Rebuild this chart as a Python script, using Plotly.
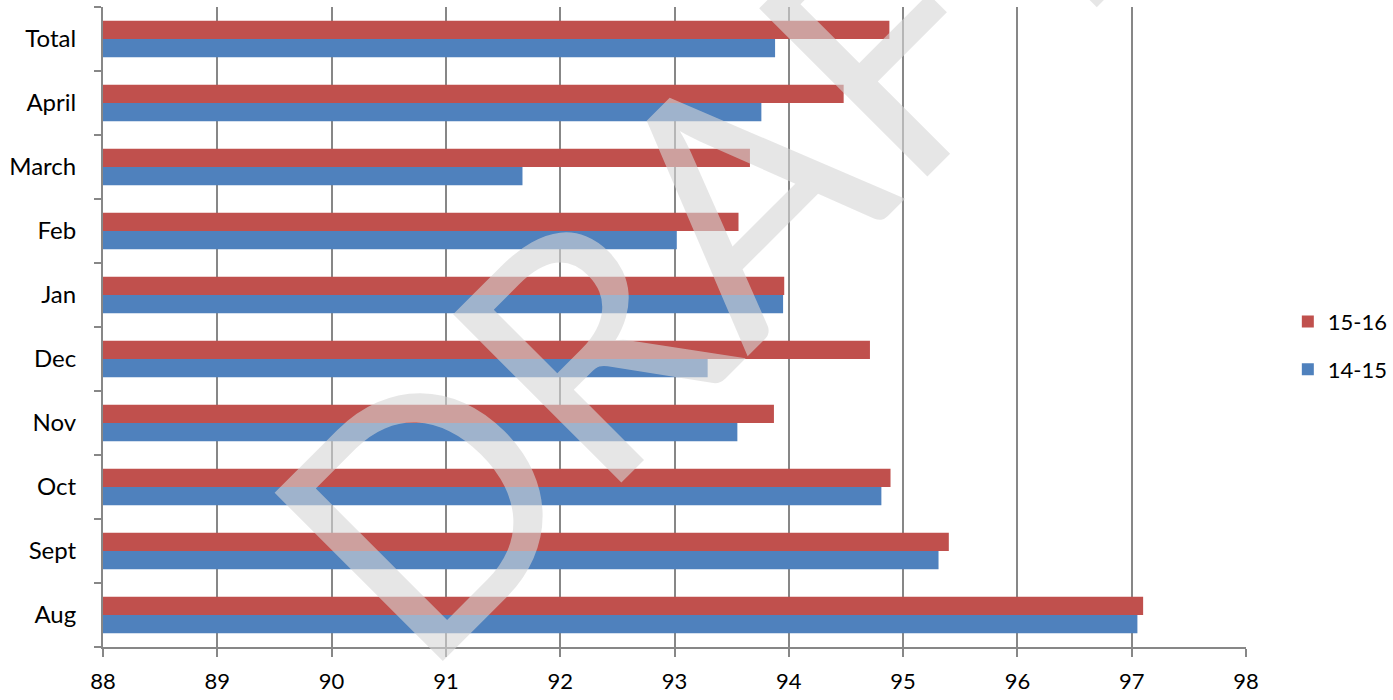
import plotly.graph_objects as go

categories = ["Aug", "Sept", "Oct", "Nov", "Dec", "Jan", "Feb", "March", "April", "Total"]
series_1415 = [97.05, 95.31, 94.81, 93.55, 93.29, 93.95, 93.02, 91.67, 93.76, 93.88]
series_1516 = [97.10, 95.40, 94.89, 93.87, 94.71, 93.96, 93.56, 93.66, 94.48, 94.88]
x_ticks = [88, 89, 90, 91, 92, 93, 94, 95, 96, 97, 98]

FONT = "Lato"
GRID = "#878787"

fig = go.Figure()
fig.add_trace(go.Bar(
    y=categories, x=series_1415, orientation="h", name="14-15",
    marker=dict(color="#4F81BD", line=dict(width=0)),
    legendgroup="a", legendrank=2,
))
fig.add_trace(go.Bar(
    y=categories, x=series_1516, orientation="h", name="15-16",
    marker=dict(color="#C0504D", line=dict(width=0)),
    legendgroup="b", legendrank=1,
))

fig.update_layout(
    width=1393, height=700,
    margin=dict(l=103, r=147, t=7, b=52.5, autoexpand=False),
    paper_bgcolor="white", plot_bgcolor="white",
    barmode="group", bargap=0.43, bargroupgap=0,
    font=dict(family=FONT, size=22, color="black"),
    showlegend=True,
    legend=dict(
        xref="container", yref="container",
        x=0.9245, y=0.506, xanchor="left", yanchor="middle",
        traceorder="grouped", tracegroupgap=16,
        font=dict(family=FONT, size=22, color="black"),
        bgcolor="rgba(0,0,0,0)",
    ),
    xaxis=dict(
        range=[88, 98], tickvals=x_ticks, ticktext=[str(v) for v in x_ticks],
        showgrid=True, gridcolor=GRID, gridwidth=2,
        showline=True, linecolor=GRID, linewidth=2,
        ticks="outside", ticklen=8, tickcolor=GRID, tickwidth=2,
        ticklabelstandoff=6,
        tickfont=dict(family=FONT, size=22, color="black"),
        zeroline=False, fixedrange=True, automargin=False,
    ),
    yaxis=dict(
        type="category", categoryorder="array", categoryarray=categories,
        showgrid=False, showline=True, linecolor=GRID, linewidth=2,
        ticks="outside", ticklen=7, tickcolor=GRID, tickwidth=2,
        tickson="boundaries", ticklabelstandoff=20,
        tickfont=dict(family=FONT, size=24, color="black"),
        zeroline=False, fixedrange=True, automargin=False,
    ),
    annotations=[dict(
        text="DRAFT", xref="paper", yref="paper", x=0.530, y=0.677,
        xanchor="center", yanchor="middle", showarrow=False, textangle=-45,
        font=dict(family=FONT, size=332, color="rgba(214,214,214,0.6)"),
    )],
)

fig.write_html(
    "out.html",
    config={"displayModeBar": False},
    post_script="document.body.style.margin='0';document.body.style.overflow='hidden';",
)
